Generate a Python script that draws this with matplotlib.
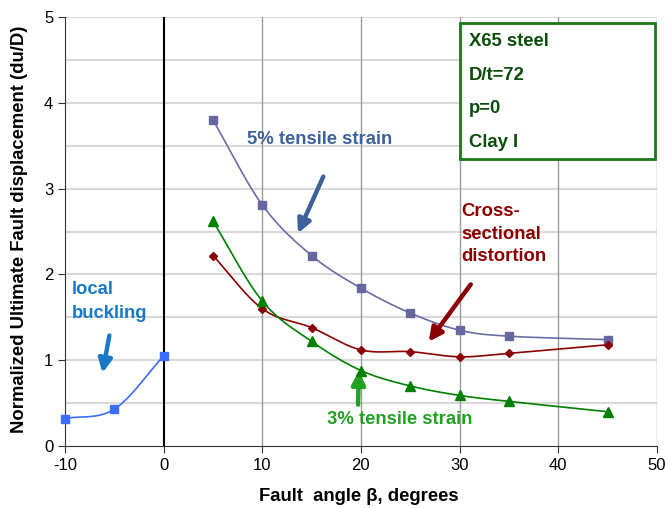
import matplotlib
matplotlib.use("Agg")
import matplotlib.pyplot as plt
from matplotlib.patches import Rectangle
import numpy as np

plt.rcParams['font.family'] = ['Liberation Sans', 'DejaVu Sans']
plt.rcParams['axes.unicode_minus'] = False

# data
x_local = [-10, -5, 0]
y_local = [0.32, 0.43, 1.05]

x_series = [5, 10, 15, 20, 25, 30, 35, 45]
y_5pct = [3.80, 2.81, 2.22, 1.84, 1.55, 1.35, 1.28, 1.24]
y_cross = [2.22, 1.60, 1.38, 1.12, 1.10, 1.04, 1.08, 1.18]
y_3pct = [2.62, 1.69, 1.22, 0.88, 0.70, 0.59, 0.52, 0.40]

box_lines = ["X65 steel", "D/t=72", "p=0", "Clay I"]


def smooth(x, y, n=20):
    # catmull-rom style curve like excel's smoothed lines
    x = np.asarray(x, float)
    y = np.asarray(y, float)
    px = np.concatenate([[2 * x[0] - x[1]], x, [2 * x[-1] - x[-2]]])
    py = np.concatenate([[2 * y[0] - y[1]], y, [2 * y[-1] - y[-2]]])
    xs, ys = [], []
    t = np.linspace(0, 1, n)
    for i in range(1, len(px) - 2):
        for p, out in ((px, xs), (py, ys)):
            p0, p1, p2, p3 = p[i - 1], p[i], p[i + 1], p[i + 2]
            out.extend(0.5 * ((2 * p1) + (-p0 + p2) * t
                              + (2 * p0 - 5 * p1 + 4 * p2 - p3) * t ** 2
                              + (-p0 + 3 * p1 - 3 * p2 + p3) * t ** 3))
    return xs, ys


fig = plt.figure(figsize=(6.68, 5.08), dpi=100)
ax = fig.add_axes([0.0973, 0.122, 0.886, 0.8445])

ax.set_xlim(-10, 50)
ax.set_ylim(0, 5)
ax.set_xticks(range(-10, 51, 10))
ax.set_yticks(range(0, 6))

for yv in np.arange(0.5, 5.01, 0.5):
    ax.axhline(yv, color='#d9d9d9', lw=1.5, zorder=0)
for xv in [10, 20, 30, 40, 50]:
    ax.axvline(xv, color='#9a9a9a', lw=1, zorder=0)
ax.axvline(0, color='black', lw=1.5, zorder=1)

ax.spines['top'].set_visible(False)
ax.spines['right'].set_visible(False)
ax.spines['left'].set_color('#333333')
ax.spines['bottom'].set_color('#333333')
ax.tick_params(axis='both', labelsize=12, length=5, direction='out', color='#333333')

# local buckling
sx, sy = smooth(x_local, y_local)
ax.plot(sx, sy, color='#3d6bff', lw=1.2, zorder=3)
ax.plot(x_local, y_local, 's', color='#3d6bff', ms=5.5, zorder=4, clip_on=False)

# 5% tensile strain
sx, sy = smooth(x_series, y_5pct)
ax.plot(sx, sy, color='#6b6ba8', lw=1.2, zorder=3)
ax.plot(x_series, y_5pct, 's', color='#6666a0', ms=5.5, zorder=4)

# cross-sectional distortion
sx, sy = smooth(x_series, y_cross)
ax.plot(sx, sy, color='#8b0000', lw=1.2, zorder=3)
ax.plot(x_series, y_cross, 'D', color='#8b0000', ms=4.5, zorder=4)

# 3% tensile strain
sx, sy = smooth(x_series, y_3pct)
ax.plot(sx, sy, color='#008000', lw=1.2, zorder=3)
ax.plot(x_series, y_3pct, '^', color='#008000', ms=6.5, zorder=4)

ax.set_xlabel("Fault  angle β, degrees", fontsize=13.3, fontweight='bold')
ax.xaxis.set_label_coords(0.496, -0.098)
ax.set_ylabel("Normalized Ultimate Fault displacement (du/D)", fontsize=13.3, fontweight='bold')
ax.yaxis.set_label_coords(-0.0625, 0.505)

# annotations
arrow = dict(arrowstyle='-|>', lw=3.2, mutation_scale=20)

ax.text(8.44, 3.57, "5% tensile strain", color='#3d6199', fontsize=13.3, fontweight='bold', va='center')
ax.annotate("", xy=(13.5, 2.45), xytext=(16.3, 3.17), arrowprops=dict(arrow, color='#3d6199'))

ax.text(30.2, 2.47, "Cross-\nsectional\ndistortion", color='#8b0000', fontsize=13.3,
        fontweight='bold', va='center', linespacing=1.42)
ax.annotate("", xy=(26.7, 1.19), xytext=(31.3, 1.91), arrowprops=dict(arrow, color='#8b0000'))

ax.text(-9.3, 1.68, "local\nbuckling", color='#1a78c8', fontsize=13.3, fontweight='bold',
        va='center', linespacing=1.55)
ax.annotate("", xy=(-6.25, 0.82), xytext=(-5.45, 1.32), arrowprops=dict(arrow, color='#1a78c8'))

ax.text(16.55, 0.31, "3% tensile strain", color='#22a022', fontsize=13.3, fontweight='bold', va='center')
ax.annotate("", xy=(19.8, 0.91), xytext=(19.7, 0.45), arrowprops=dict(arrow, color='#22a022'))

# info box
ax.add_patch(Rectangle((0.667, 0.669), 0.330, 0.317, transform=ax.transAxes,
                       facecolor='white', edgecolor='#1a7a1a', lw=2, zorder=5, clip_on=False))
for i, s in enumerate(box_lines):
    ax.text(0.682, 0.942 - i * 0.078, s, transform=ax.transAxes, color='#0b4d0b',
            fontsize=13.3, fontweight='bold', va='center', zorder=6)

fig.savefig("out.png", dpi=100)
